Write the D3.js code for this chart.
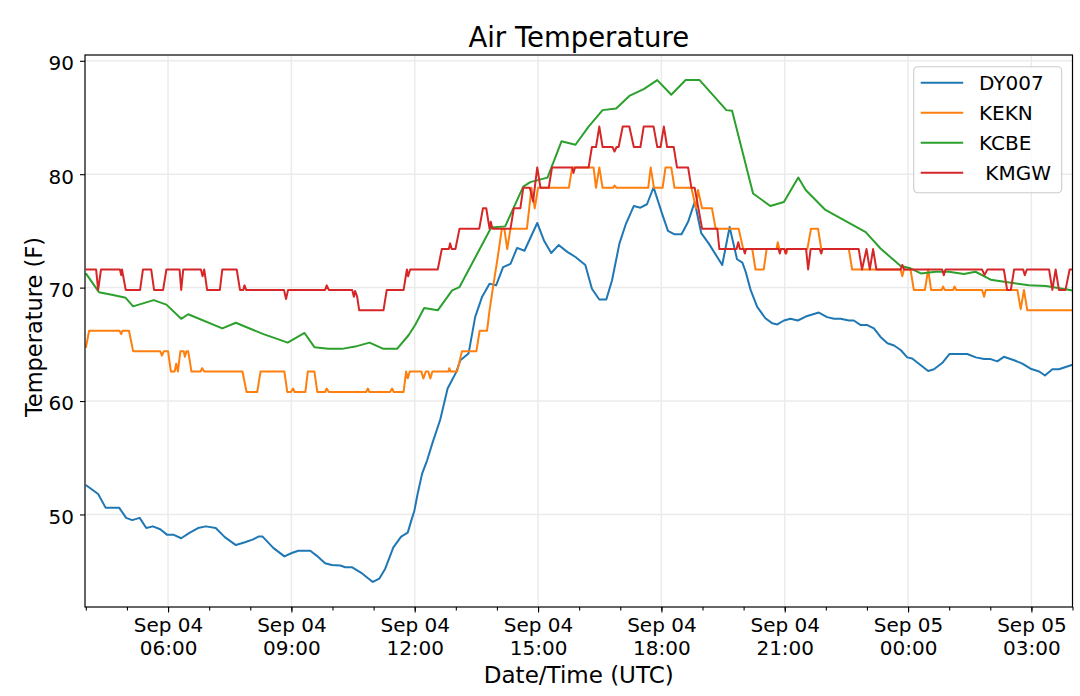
<!DOCTYPE html>
<html>
<head>
<meta charset="utf-8">
<script src="https://cdn.jsdelivr.net/npm/d3@7"></script>
<style>
    html, body { margin: 0; padding: 0; background: #fff; }
    svg text { font-family: "DejaVu Sans", sans-serif; fill: #000; }
</style>
</head>
<body>
<svg id="chart" width="1080" height="696"></svg>
<script>
// Observations: [hours since Sep 04 00:00 UTC, temperature F]
const DY007 = [
    [4.00, 52.6], [4.30, 51.8], [4.48, 50.6], [4.81, 50.6], [4.98, 49.7], [5.13, 49.5], [5.31, 49.7],
    [5.47, 48.8], [5.63, 48.95], [5.81, 48.7], [5.98, 48.2], [6.14, 48.2], [6.32, 47.9], [6.53, 48.4],
    [6.73, 48.8], [6.92, 48.95], [7.16, 48.8], [7.38, 48.0], [7.65, 47.3], [7.87, 47.55], [8.07, 47.8],
    [8.20, 48.05], [8.30, 48.05], [8.56, 47.05], [8.83, 46.3], [9.01, 46.6], [9.17, 46.8], [9.46, 46.8],
    [9.62, 46.35], [9.82, 45.7], [9.98, 45.55], [10.19, 45.5], [10.31, 45.35], [10.47, 45.35], [10.72, 44.8],
    [10.98, 44.05], [11.14, 44.35], [11.28, 45.2], [11.48, 47.1], [11.67, 48.05], [11.83, 48.4], [11.92, 49.5],
    [11.99, 50.3], [12.07, 51.8], [12.18, 53.6], [12.30, 54.75], [12.44, 56.4], [12.62, 58.35], [12.80, 61.1],
    [13.01, 62.55], [13.11, 63.6], [13.31, 64.2], [13.47, 67.4], [13.64, 69.2], [13.82, 70.35], [13.98, 70.2],
    [14.15, 71.8], [14.33, 72.1], [14.49, 73.5], [14.67, 73.25], [14.98, 75.7], [15.15, 74.1], [15.32, 73.05],
    [15.50, 73.75], [15.71, 73.15], [15.91, 72.7], [16.15, 72.0], [16.31, 69.9], [16.49, 68.95], [16.66, 68.95],
    [16.80, 70.65], [16.98, 73.9], [17.14, 75.65], [17.33, 77.2], [17.49, 77.05], [17.65, 77.35], [17.81, 78.85],
    [18.00, 76.7], [18.16, 75.0], [18.32, 74.7], [18.49, 74.7], [18.65, 75.8], [18.81, 77.55], [18.97, 74.8],
    [19.15, 73.9], [19.48, 72.0], [19.66, 75.35], [19.84, 72.5], [19.97, 72.2], [20.05, 71.4], [20.17, 69.8],
    [20.33, 68.3], [20.53, 67.3], [20.70, 66.85], [20.82, 66.75], [20.98, 67.1], [21.14, 67.25], [21.32, 67.1],
    [21.51, 67.45], [21.83, 67.8], [22.03, 67.4], [22.20, 67.25], [22.36, 67.25], [22.56, 67.1], [22.68, 67.1],
    [22.85, 66.7], [23.01, 66.7], [23.17, 66.4], [23.33, 65.65], [23.50, 65.1], [23.66, 64.9], [23.82, 64.5],
    [23.98, 63.85], [24.10, 63.75], [24.31, 63.15], [24.49, 62.65], [24.63, 62.8], [24.83, 63.35], [25.01, 64.15],
    [25.44, 64.15], [25.65, 63.85], [25.85, 63.7], [26.01, 63.7], [26.17, 63.5], [26.33, 63.9], [26.58, 63.6],
    [26.78, 63.3], [26.98, 62.85], [27.19, 62.6], [27.33, 62.25], [27.51, 62.8], [27.67, 62.8], [28.00, 63.2]
];

const KEKN = [
    [4.00, 64.7], [4.08, 66.2], [4.82, 66.2], [4.86, 65.9], [4.89, 66.2], [5.05, 66.2], [5.15, 64.4],
    [5.81, 64.4], [5.85, 64.0], [5.90, 64.4], [6.00, 64.4], [6.07, 62.6], [6.16, 62.6], [6.20, 63.3],
    [6.24, 62.6], [6.30, 64.4], [6.38, 64.4], [6.41, 63.9], [6.45, 64.4], [6.49, 64.4], [6.57, 62.6],
    [6.79, 62.6], [6.83, 62.9], [6.88, 62.6], [7.81, 62.6], [7.91, 60.8], [8.17, 60.8], [8.25, 62.6],
    [8.83, 62.6], [8.90, 60.8], [8.99, 60.8], [9.04, 61.1], [9.08, 60.8], [9.34, 60.8], [9.40, 62.6],
    [9.56, 62.6], [9.63, 60.8], [9.82, 60.8], [9.86, 61.1], [9.91, 60.8], [10.82, 60.8], [10.86, 61.1],
    [10.90, 60.8], [11.40, 60.8], [11.45, 61.1], [11.49, 60.8], [11.73, 60.8], [11.79, 62.6], [11.83, 62.0],
    [11.88, 62.6], [12.16, 62.6], [12.21, 62.0], [12.27, 62.6], [12.33, 62.6], [12.38, 62.0], [12.43, 62.6],
    [12.82, 62.6], [12.84, 62.9], [12.87, 62.6], [13.03, 62.6], [13.15, 64.4], [13.50, 64.4], [13.58, 66.2],
    [13.76, 66.2], [13.82, 68.0], [13.92, 70.4], [14.02, 72.7], [14.12, 75.2], [14.18, 75.2], [14.25, 73.4],
    [14.33, 75.2], [14.73, 75.2], [14.84, 78.8], [14.92, 77.0], [15.00, 78.8], [15.75, 78.8], [15.83, 80.6],
    [16.35, 80.6], [16.41, 78.8], [16.49, 80.6], [16.57, 78.8], [16.83, 78.8], [16.86, 79.0], [16.91, 78.8],
    [17.68, 78.8], [17.74, 80.6], [17.82, 78.8], [18.03, 78.8], [18.10, 80.6], [18.24, 80.6], [18.32, 78.8],
    [18.73, 78.8], [18.84, 77.0], [18.89, 78.6], [18.99, 77.0], [19.23, 77.0], [19.32, 75.2], [19.88, 75.2],
    [19.99, 73.4], [20.21, 73.4], [20.29, 71.6], [20.49, 71.6], [20.56, 73.4], [20.80, 73.4], [20.83, 74.0],
    [20.87, 73.4], [21.00, 73.4], [21.04, 73.0], [21.07, 73.4], [21.55, 73.4], [21.64, 75.2], [21.81, 75.2],
    [21.89, 73.4], [22.56, 73.4], [22.64, 71.6], [23.82, 71.6], [23.86, 71.0], [23.90, 71.6], [24.06, 71.6],
    [24.14, 69.8], [24.41, 69.8], [24.49, 71.6], [24.56, 69.8], [24.82, 69.8], [24.85, 70.1], [24.89, 69.8],
    [25.10, 69.8], [25.13, 70.1], [25.17, 69.8], [25.80, 69.8], [25.85, 69.2], [25.89, 69.8], [26.66, 69.8],
    [26.74, 68.1], [26.82, 69.8], [26.90, 68.0], [28.00, 68.0]
];

const KCBE = [
    [4.00, 71.25], [4.32, 69.6], [4.66, 69.35], [4.97, 69.1], [5.15, 68.35], [5.65, 68.9], [5.96, 68.5],
    [6.32, 67.25], [6.49, 67.65], [7.32, 66.4], [7.65, 66.9], [8.32, 65.9], [8.60, 65.55], [8.91, 65.15],
    [9.32, 66.0], [9.56, 64.75], [9.90, 64.6], [10.23, 64.6], [10.55, 64.8], [10.90, 65.15], [11.24, 64.6],
    [11.57, 64.6], [11.85, 65.8], [12.01, 66.7], [12.23, 68.2], [12.56, 68.0], [12.91, 69.75], [13.09, 70.05],
    [13.86, 75.3], [14.20, 75.4], [14.64, 78.9], [14.81, 79.3], [15.23, 79.7], [15.57, 82.9], [15.91, 82.6],
    [16.23, 84.2], [16.57, 85.65], [16.90, 85.8], [17.22, 86.9], [17.57, 87.5], [17.90, 88.3], [18.24, 87.0],
    [18.59, 88.3], [18.93, 88.3], [19.25, 87.0], [19.58, 85.65], [19.72, 85.6], [20.23, 78.3], [20.65, 77.2],
    [20.98, 77.55], [21.33, 79.7], [21.51, 78.6], [21.99, 76.85], [22.97, 74.9], [23.33, 73.45], [23.82, 71.9],
    [24.06, 71.7], [24.31, 71.25], [24.67, 71.4], [24.99, 71.4], [25.36, 71.2], [25.64, 71.4], [26.01, 70.7],
    [26.38, 70.5], [26.94, 70.2], [27.35, 70.15], [27.76, 69.9], [28.00, 69.75]
];

const KMGW = [
    [4.00, 71.6], [4.25, 71.6], [4.30, 69.8], [4.37, 71.6], [4.83, 71.6], [4.86, 71.1], [4.88, 71.6],
    [4.97, 69.8], [5.32, 69.8], [5.39, 71.6], [5.59, 71.6], [5.66, 69.8], [5.88, 69.8], [5.96, 71.6],
    [6.28, 71.6], [6.32, 69.8], [6.37, 71.6], [6.80, 71.6], [6.84, 71.0], [6.88, 71.6], [6.95, 69.8],
    [7.26, 69.8], [7.32, 71.6], [7.67, 71.6], [7.75, 69.8], [7.83, 69.8], [7.86, 70.2], [7.90, 69.8],
    [8.82, 69.8], [8.87, 69.0], [8.92, 69.8], [9.82, 69.8], [9.86, 70.2], [9.91, 69.8], [10.48, 69.8],
    [10.52, 69.2], [10.55, 69.7], [10.60, 69.2], [10.65, 68.0], [11.24, 68.0], [11.32, 69.8], [11.73, 69.8],
    [11.81, 71.6], [11.84, 71.0], [11.89, 71.6], [12.56, 71.6], [12.66, 73.4], [12.83, 73.4], [12.86, 73.9],
    [12.90, 73.4], [12.99, 73.4], [13.09, 75.2], [13.57, 75.2], [13.66, 77.0], [13.74, 77.0], [13.82, 75.2],
    [13.85, 75.8], [13.89, 75.2], [14.33, 75.2], [14.41, 77.0], [14.57, 77.0], [14.64, 78.8], [14.80, 78.8],
    [14.88, 77.6], [14.98, 80.6], [15.06, 78.8], [15.26, 78.8], [15.34, 80.6], [15.83, 80.6], [15.86, 80.1],
    [15.90, 80.6], [16.23, 80.6], [16.31, 82.4], [16.41, 82.4], [16.49, 84.2], [16.57, 82.4], [16.81, 82.4],
    [16.86, 82.0], [16.91, 82.4], [16.96, 82.4], [17.06, 84.2], [17.22, 84.2], [17.33, 82.4], [17.49, 82.4],
    [17.57, 84.2], [17.81, 84.2], [17.90, 82.4], [17.98, 82.4], [18.06, 84.2], [18.14, 82.4], [18.30, 82.4],
    [18.38, 80.6], [18.65, 80.6], [18.73, 78.8], [18.81, 78.8], [18.99, 75.2], [19.36, 75.2], [19.41, 73.4],
    [19.83, 73.4], [19.87, 74.0], [19.91, 73.4], [20.00, 73.4], [20.03, 73.0], [20.06, 73.4], [20.85, 73.4],
    [20.88, 73.0], [20.91, 73.4], [20.99, 73.4], [21.02, 73.0], [21.05, 73.4], [21.52, 73.4], [21.57, 71.6],
    [21.63, 73.4], [21.85, 73.4], [21.89, 73.0], [21.92, 73.4], [22.80, 73.4], [22.88, 71.6], [22.99, 73.4],
    [23.07, 71.6], [23.15, 73.4], [23.23, 71.6], [23.82, 71.6], [23.86, 72.0], [23.90, 71.6], [24.83, 71.6],
    [24.87, 71.1], [24.91, 71.6], [25.80, 71.6], [25.86, 71.1], [25.93, 71.6], [26.33, 71.6], [26.41, 69.8],
    [26.50, 69.8], [26.58, 71.6], [26.80, 71.6], [26.84, 71.1], [26.89, 71.6], [27.43, 71.6], [27.51, 69.8],
    [27.59, 71.6], [27.67, 69.8], [27.83, 69.8], [27.93, 71.6], [28.00, 71.6]
];

const stationNames = ["DY007", "KEKN", "KCBE", " KMGW"];
const stationColours = ["#1f77b4", "#ff7f0e", "#2ca02c", "#d62728"];
const stationData = [DY007, KEKN, KCBE, KMGW];

const yTicks = [50, 60, 70, 80, 90];
const hourDomain = [3.98, 28.0];
const tempDomain = [41.84, 90.51];

const baseTime = Date.UTC(2019, 8, 4);
const toDate = h => new Date(baseTime + h * 3600e3);

const svgWidth = 1080,
    svgHeight = 696,
    margin = { top: 55, right: 7.5, bottom: 89, left: 85 },
    width = svgWidth - margin.left - margin.right,
    height = svgHeight - margin.top - margin.bottom;

const svg = d3.select("#chart");

const x = d3.scaleUtc()
    .domain(hourDomain.map(toDate))
    .range([0, width]);

const y = d3.scaleLinear()
    .domain(tempDomain)
    .range([height, 0]);

const plot = svg.append("g")
    .attr("transform", `translate(${margin.left},${margin.top})`);

const majorTicks = x.ticks(d3.utcHour.every(3));
const minorTicks = x.ticks(d3.utcHour.every(1));

// grid
plot.append("g")
    .selectAll("line")
    .data(majorTicks)
    .enter()
    .append("line")
    .attr("x1", d => x(d))
    .attr("x2", d => x(d))
    .attr("y1", 0)
    .attr("y2", height)
    .attr("stroke", "#ebebeb")
    .attr("stroke-width", 1.5);

plot.append("g")
    .selectAll("line")
    .data(yTicks)
    .enter()
    .append("line")
    .attr("x1", 0)
    .attr("x2", width)
    .attr("y1", d => y(d))
    .attr("y2", d => y(d))
    .attr("stroke", "#ebebeb")
    .attr("stroke-width", 1.5);

// series
const line = d3.line()
    .x(d => x(toDate(d[0])))
    .y(d => y(d[1]));

plot.append("defs")
    .append("clipPath")
    .attr("id", "clip")
    .append("rect")
    .attr("width", width)
    .attr("height", height);

plot.append("g")
    .attr("clip-path", "url(#clip)")
    .selectAll("path")
    .data(stationData)
    .enter()
    .append("path")
    .attr("d", line)
    .attr("fill", "none")
    .attr("stroke", (d, i) => stationColours[i])
    .attr("stroke-width", 2)
    .attr("stroke-linejoin", "round");

// axes
const fmtDay = d3.utcFormat("%b %d"),
    fmtHour = d3.utcFormat("%H:%M");

const xAxis = plot.append("g")
    .attr("transform", `translate(0,${height})`)
    .call(d3.axisBottom(x).tickValues(majorTicks).tickSize(5.5).tickSizeOuter(0).tickFormat(""));

xAxis.selectAll(".tick text")
    .attr("y", 0)
    .attr("dy", 0)
    .style("font-size", "20px")
    .each(function (d) {
        const t = d3.select(this);
        t.append("tspan").attr("x", 0).attr("y", 24.7).text(fmtDay(d));
        t.append("tspan").attr("x", 0).attr("y", 48).text(fmtHour(d));
    });

plot.append("g")
    .attr("transform", `translate(0,${height})`)
    .call(d3.axisBottom(x).tickValues(minorTicks).tickSize(3.5).tickSizeOuter(0).tickFormat(""))
    .call(g => g.select(".domain").remove());

const yAxis = plot.append("g")
    .call(d3.axisLeft(y).tickValues(yTicks).tickSize(5).tickPadding(6).tickSizeOuter(0));

yAxis.selectAll(".tick text")
    .attr("dy", "0.44em")
    .style("font-size", "20px");

svg.selectAll(".domain").remove();
svg.selectAll(".tick line").attr("stroke", "#000").attr("stroke-width", 1.1);

// spines
plot.append("rect")
    .attr("width", width)
    .attr("height", height)
    .attr("fill", "none")
    .attr("stroke", "#000")
    .attr("stroke-width", 1.2);

// labels
svg.append("text")
    .attr("x", margin.left + width / 2)
    .attr("y", 46.7)
    .style("text-anchor", "middle")
    .style("font-size", "27.5px")
    .text("Air Temperature");

svg.append("text")
    .attr("x", margin.left + width / 2)
    .attr("y", 682.7)
    .style("text-anchor", "middle")
    .style("font-size", "23px")
    .text("Date/Time (UTC)");

svg.append("text")
    .attr("transform", "translate(41.5,327) rotate(-90)")
    .style("text-anchor", "middle")
    .style("font-size", "22.5px")
    .text("Temperature (F)");

// legend
const legend = svg.append("g")
    .attr("transform", "translate(913.7,66.7)");

legend.append("rect")
    .attr("width", 148)
    .attr("height", 126)
    .attr("rx", 4)
    .attr("fill", "rgba(255,255,255,0.8)")
    .attr("stroke", "#cccccc")
    .attr("stroke-width", 1.1);

const items = legend.selectAll("g.item")
    .data(stationNames)
    .enter()
    .append("g")
    .attr("class", "item")
    .attr("transform", (d, i) => `translate(0,${16 + i * 30})`);

items.append("line")
    .attr("x1", 7)
    .attr("x2", 49.5)
    .attr("stroke", (d, i) => stationColours[i])
    .attr("stroke-width", 2);

items.append("text")
    .attr("x", 65.3)
    .attr("y", 7.3)
    .style("font-size", "20px")
    .style("white-space", "pre")
    .text(d => d);
</script>
</body>
</html>
